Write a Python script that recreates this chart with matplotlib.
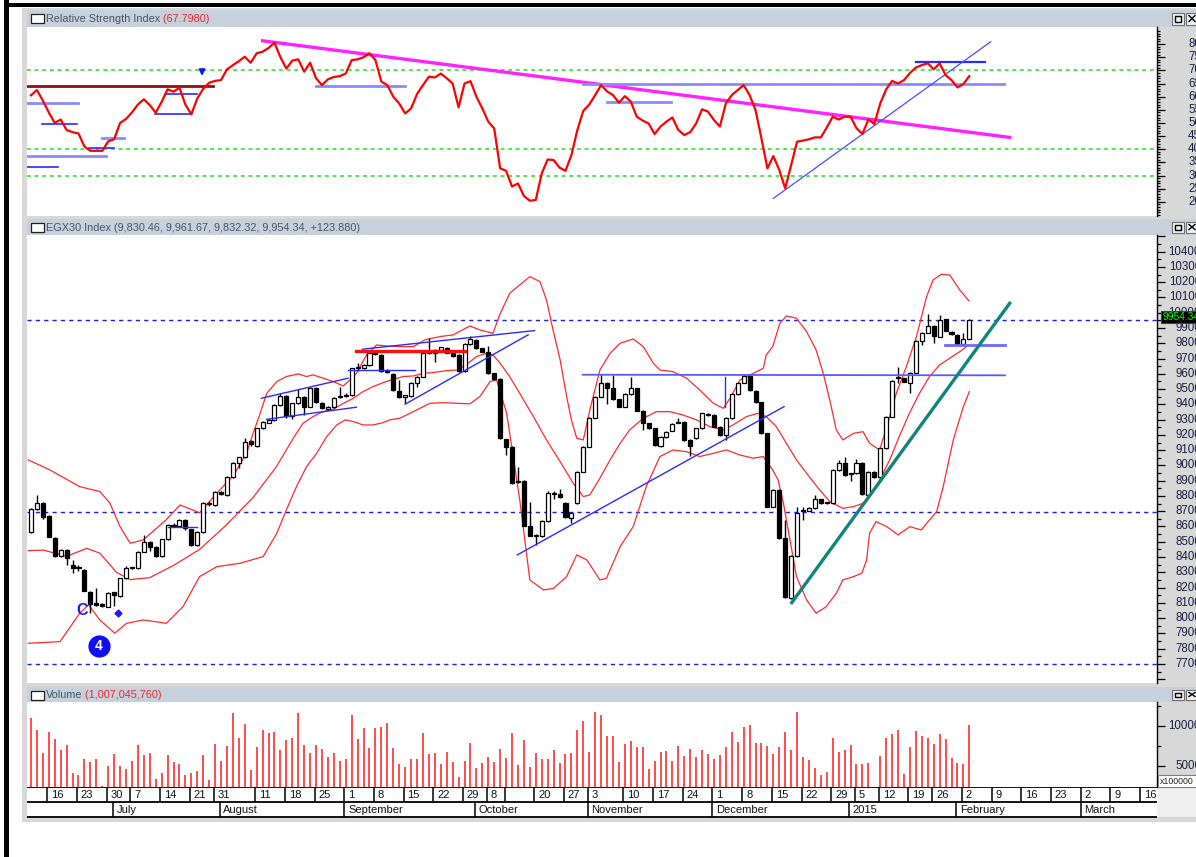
import matplotlib
matplotlib.use("Agg")
import matplotlib.pyplot as plt
from matplotlib.patches import Rectangle
import numpy as np

plt.rcParams["font.family"] = ["Liberation Sans", "DejaVu Sans"]

W, H = 1196, 857

# EGX30 daily candles, one per trading day (mid June 2014 -> 2 Feb 2015)
opens = [8566, 8713, 8752, 8669, 8527, 8407, 8446, 8348, 8330, 8315,
         8173, 8100, 8092, 8075, 8168, 8145, 8261, 8326, 8326, 8435,
         8501, 8468, 8407, 8516, 8605, 8600, 8643, 8581, 8479, 8566,
         8748, 8741, 8828, 8806, 8922, 9013, 9053, 9160, 9127, 9243,
         9280, 9298, 9396, 9455, 9326, 9407, 9450, 9385, 9510, 9412,
         9368, 9380, 9450, 9455, 9460, 9640, 9640, 9658, 9730, 9723,
         9620, 9599, 9488, 9450, 9455, 9542, 9582, 9740, 9734, 9756,
         9767, 9734, 9723, 9621, 9795, 9822, 9767, 9745, 9603, 9564,
         9171, 9123, 8893, 8900, 8604, 8540, 8538, 8638, 8813, 8815,
         8752, 8653, 8752, 8959, 9123, 9313, 9450, 9542, 9505, 9433,
         9385, 9468, 9505, 9359, 9276, 9243, 9127, 9184, 9228, 9280,
         9287, 9167, 9178, 9243, 9335, 9330, 9250, 9200, 9309, 9468,
         9542, 9586, 9490, 9413, 9210, 8730, 8839, 8523, 8130, 8407,
         8700, 8704, 8720, 8778, 8752, 8752, 8970, 9018, 8943, 8948,
         9018, 8806, 8959, 8922, 9112, 9320, 9570, 9570, 9542, 9607,
         9815, 9870, 9913, 9844, 9957, 9876, 9855, 9796, 9830]
highs = [8720, 8806, 8760, 8675, 8530, 8455, 8450, 8381, 8345, 8320,
         8178, 8195, 8100, 8172, 8172, 8265, 8340, 8335, 8440, 8545,
         8505, 8472, 8520, 8615, 8625, 8648, 8648, 8585, 8570, 8760,
         8765, 8832, 8835, 8928, 9022, 9058, 9180, 9165, 9248, 9292,
         9305, 9400, 9475, 9460, 9412, 9500, 9455, 9515, 9515, 9418,
         9390, 9445, 9515, 9475, 9640, 9672, 9665, 9740, 9745, 9728,
         9630, 9605, 9560, 9462, 9548, 9586, 9745, 9832, 9760, 9778,
         9775, 9740, 9728, 9800, 9850, 9828, 9772, 9782, 9608, 9570,
         9176, 9128, 8990, 8905, 8763, 8548, 8643, 8835, 8830, 8845,
         8758, 8695, 8965, 9128, 9318, 9455, 9597, 9548, 9592, 9438,
         9472, 9582, 9510, 9364, 9280, 9248, 9190, 9226, 9276, 9310,
         9292, 9172, 9248, 9346, 9345, 9335, 9255, 9314, 9473, 9547,
         9600, 9600, 9495, 9418, 9215, 8845, 8844, 8640, 8412, 8730,
         8730, 8725, 8805, 8783, 8760, 8975, 9035, 9058, 8950, 9040,
         9023, 8964, 8964, 9117, 9325, 9560, 9645, 9575, 9612, 9820,
         9875, 9992, 9918, 9985, 9962, 9880, 9860, 9870, 9962]
lows = [8560, 8705, 8647, 8530, 8400, 8400, 8348, 8293, 8310, 8175,
        8032, 8080, 8075, 8070, 8080, 8140, 8255, 8320, 8320, 8430,
        8440, 8400, 8400, 8510, 8595, 8595, 8580, 8475, 8470, 8560,
        8735, 8735, 8808, 8800, 8918, 8980, 9050, 9130, 9122, 9238,
        9275, 9292, 9390, 9310, 9305, 9400, 9330, 9380, 9412, 9368,
        9360, 9375, 9440, 9450, 9455, 9620, 9630, 9650, 9722, 9615,
        9605, 9488, 9440, 9407, 9450, 9515, 9578, 9730, 9680, 9750,
        9735, 9712, 9615, 9615, 9790, 9762, 9740, 9598, 9560, 9170,
        9070, 8880, 8885, 8600, 8535, 8479, 8533, 8632, 8780, 8788,
        8655, 8620, 8748, 8955, 9118, 9308, 9445, 9405, 9428, 9380,
        9380, 9462, 9354, 9232, 9238, 9129, 9122, 9178, 9223, 9275,
        9162, 9062, 9172, 9238, 9322, 9249, 9195, 9167, 9304, 9463,
        9537, 9489, 9408, 9205, 8725, 8725, 8518, 8130, 8125, 8402,
        8640, 8699, 8715, 8747, 8745, 8747, 8965, 8932, 8895, 8943,
        8808, 8801, 8917, 8917, 9107, 9315, 9540, 9544, 9472, 9602,
        9790, 9865, 9800, 9839, 9878, 9854, 9791, 9791, 9832]
closes = [8713, 8752, 8664, 8534, 8407, 8446, 8392, 8326, 8326, 8180,
          8093, 8086, 8080, 8167, 8150, 8261, 8326, 8330, 8435, 8501,
          8468, 8407, 8516, 8610, 8603, 8643, 8588, 8479, 8566, 8752,
          8750, 8828, 8815, 8922, 9018, 9053, 9156, 9138, 9243, 9287,
          9298, 9396, 9455, 9326, 9407, 9450, 9385, 9510, 9418, 9374,
          9385, 9440, 9455, 9460, 9636, 9643, 9658, 9734, 9727, 9621,
          9614, 9494, 9446, 9459, 9542, 9582, 9739, 9735, 9756, 9773,
          9739, 9717, 9621, 9795, 9826, 9767, 9745, 9603, 9564, 9178,
          9123, 8887, 8894, 8604, 8538, 8540, 8638, 8817, 8815, 8792,
          8660, 8690, 8959, 9123, 9313, 9450, 9542, 9505, 9433, 9385,
          9468, 9505, 9359, 9276, 9243, 9134, 9184, 9221, 9271, 9280,
          9167, 9127, 9243, 9341, 9330, 9254, 9200, 9309, 9468, 9542,
          9586, 9494, 9413, 9210, 8730, 8839, 8523, 8136, 8407, 8691,
          8704, 8720, 8778, 8752, 8754, 8970, 9018, 8937, 8945, 9018,
          8813, 8959, 8922, 9112, 9320, 9555, 9572, 9549, 9607, 9815,
          9870, 9913, 9848, 9953, 9883, 9859, 9796, 9830, 9954]

# volume in units of 100,000 shares
volume = [10960, 9500, 6580, 9250, 8330, 7000, 7580, 4170, 3880, 5830,
          5460, 5920, 2500, 5000, 6500, 5000, 4670, 5670, 7580, 6380,
          6630, 3330, 4170, 6380, 5460, 5210, 3920, 4130, 4420, 6380,
          3210, 7710, 5580, 7500, 11630, 8500, 10210, 4500, 7380, 9500,
          9130, 9250, 7000, 8290, 8500, 11630, 7580, 6630, 7580, 7130,
          6170, 6630, 5580, 5920, 11380, 8420, 9750, 7250, 9750, 9830,
          10420, 7250, 5210, 4880, 5920, 5830, 9130, 6500, 6630, 5210,
          6750, 5460, 3580, 5580, 7830, 4750, 5330, 6170, 5460, 7130,
          6040, 9130, 5080, 8290, 4880, 6630, 5830, 5920, 7000, 5330,
          6500, 6630, 9500, 10670, 6750, 11750,
          11380, 8750, 8750, 5460, 7710, 8170, 7330, 7330, 4630, 5670,
          6750, 6880, 5580, 7460, 6290, 7080, 6170, 7000, 6500, 5920,
          6380, 7330, 9250, 7960, 9830, 10080, 7830, 7830, 7460, 6500,
          7330, 9250, 7000, 11750, 6170, 5790, 4750, 3920, 4250, 8500,
          6750, 7000, 7580, 5210, 5210, 5330, 2400, 6250, 8500, 9000,
          9500, 4040, 7330, 9380, 8750, 8500, 7710, 9000, 8420, 6040,
          5330, 5210, 10070]

rsi = [60.5, 62.5, 58.5, 54, 50, 51.3, 47.3, 46.5, 46, 41,
       39.4, 39.4, 39.4, 43, 43.8, 50, 51.5, 54, 57, 59,
       56.8, 53.9, 58, 62.8, 61.9, 63.4, 57, 53.3, 59.3, 63,
       65.3, 66, 66.3, 70.4, 72, 73.5, 75.2, 72.9, 76.5, 77.1,
       78.5, 80.5, 75, 70.7, 73.7, 74.2, 69.5, 72.9, 67, 64.4,
       66.6, 67.5, 67.8, 68.8, 73.9, 74.2, 75, 76.5, 73.9, 65.7,
       64.4, 60, 57.4, 53.6, 55.5, 61, 64.4, 67.6, 67.3, 68.8,
       67, 65, 55.9, 65, 65.9, 60, 55.5, 50.5, 47.9, 32.7,
       31.8, 25.8, 27, 22.2, 20.4, 20.7, 30.8, 36.1, 35.9, 33,
       31.8, 37.8, 47.3, 54.6, 57, 60.6, 64.4, 62, 60.6, 57.7,
       60.2, 58.1, 52.4, 50.9, 49.8, 45.8, 48.6, 50.5, 52.1, 47.3,
       45.4, 46.5, 49.8, 55.2, 54.3, 51.1, 48.6, 57.4, 60.6, 62.5,
       64.4, 60.6, 54.9, 44.1, 32.7, 37.4, 32.1, 25.1, 34, 42.9,
       43.3, 43.8, 44.5, 44.5, 48.3, 52.4, 51.3, 52.4, 52.4, 48,
       45.8, 51.3, 49.6, 57.4, 62.8, 66, 65, 66.3, 69, 71.1,
       72, 72.7, 70.4, 72.7, 68.2, 66.3, 63.5, 64.8, 67.8]

# Bollinger bands: (trading-day position, level)
upper_day = [-0.45, 3.2, 8.2, 11.6, 13.3, 15.0, 16.7, 18.9, 22.8, 25.1, 28.4, 31.3, 34.1, 36.3,
             37.4, 38.5, 39.7, 41.4, 43.0, 45.0, 46.4, 47.5, 49.2, 50.9, 52.6, 53.7, 54.8, 56.5,
             58.2, 59.9, 62.1, 64.4, 66.3, 68.9, 71.1, 73.9, 75.6, 77.8, 78.9, 80.6, 82.3, 84.0,
             85.7, 86.8, 87.9, 89.1, 90.2, 91.0, 91.9, 93.0, 94.1, 95.8, 97.5, 99.2, 101.4, 103.1,
             104.8, 105.9, 108.1, 110.4, 112.6, 114.9, 116.6, 117.7, 119.4, 121.6, 123.3, 123.8,
             124.9, 126.1, 127.2, 128.9, 130.6, 132.2, 133.4, 134.5, 135.6, 136.7, 138.5, 140.1,
             141.2, 142.9, 144.1, 145.7, 147.4, 149.1, 150.8, 151.9, 153.3, 154.7, 156.4, 157.9]
upper_val = [9036, 8970, 8861, 8829, 8752, 8599, 8490, 8512, 8645, 8741, 8690, 8818, 8935, 9080,
             9210, 9331, 9472, 9549, 9582, 9599, 9582, 9593, 9571, 9549, 9520, 9560, 9603, 9723,
             9789, 9782, 9778, 9778, 9822, 9844, 9855, 9913, 9887, 9865, 9985, 10127, 10182, 10236,
             10204, 10084, 9887, 9691, 9450, 9298, 9178, 9167, 9363, 9625, 9734, 9800, 9828, 9778,
             9669, 9625, 9614, 9571, 9494, 9407, 9374, 9440, 9560, 9603, 9636, 9723,
             9778, 9931, 9979, 9964, 9876, 9756, 9603, 9429, 9232, 9167, 9210, 9221,
             9145, 9101, 9254, 9472, 9647, 9844, 10105, 10215, 10252, 10247, 10149, 10079]
mid_day = [-0.45, 2.1, 6.0, 9.4, 11.6, 14.4, 16.7, 20.0, 24.0, 28.4, 32.9, 37.4, 41.3, 44.2,
           45.8, 47.5, 49.2, 50.9, 52.6, 54.3, 55.9, 57.6, 59.3, 61.0, 62.7, 64.4, 66.1, 67.7,
           70.0, 71.7, 73.3, 75.0, 76.7, 77.8, 79.0, 80.6, 82.3, 84.6, 86.8, 89.1, 91.3, 93.0,
           94.1, 95.8, 97.5, 99.2, 100.8, 103.1, 105.3, 107.6, 109.8, 112.1, 114.3, 116.6, 118.2,
           120.5, 122.4, 123.8, 125.5, 127.2, 128.9, 130.6, 132.8, 134.5, 136.7, 138.5, 140.1,
           141.2, 142.9, 144.6, 146.2, 147.9, 149.6, 151.3, 153.0, 154.7, 156.4, 157.9]
mid_val = [8442, 8445, 8405, 8457, 8425, 8300, 8252, 8265, 8345, 8450, 8610, 8790, 8990, 9180,
           9276, 9320, 9352, 9368, 9407, 9440, 9483, 9516, 9542, 9564, 9582, 9586, 9603, 9608,
           9621, 9625, 9658, 9713, 9734, 9723, 9669, 9582, 9472, 9320, 9167, 9025, 8883, 8796,
           8807, 8916, 9036, 9145, 9232, 9309, 9352, 9352, 9330, 9298, 9254, 9232, 9265,
           9320, 9341, 9320, 9254, 9145, 9036, 8948, 8839, 8763, 8719, 8730, 8752,
           8796, 8905, 9036, 9189, 9341, 9472, 9582, 9658, 9702, 9745, 9789]
lower_day = [-0.45, 4.9, 8.2, 9.7, 11.6, 14.1, 16.1, 18.9, 22.8, 25.6, 28.4, 31.3, 35.2, 39.1,
             41.4, 43.0, 44.7, 46.4, 48.1, 49.8, 51.5, 52.9, 54.3, 55.9, 57.6, 59.3, 60.4, 62.1,
             63.8, 65.5, 67.2, 69.4, 71.7, 73.9, 75.6, 77.3, 78.4, 80.1, 82.3, 84.0, 86.3, 88.0,
             90.2, 91.9, 93.6, 95.8, 96.9, 99.2, 101.4, 103.6, 105.9, 108.1, 110.4, 112.6, 114.9,
             117.1, 119.4, 121.6, 123.3, 124.9, 125.8, 126.7, 127.8, 128.9, 130.6, 132.2, 133.9,
             135.6, 136.7, 138.5, 139.9, 140.7, 141.2, 142.3, 144.1, 146.0, 148.0, 149.9, 151.3,
             152.5, 153.6, 155.3, 157.0, 158.0]
lower_val = [7835, 7846, 8032, 8086, 7988, 7901, 7966, 7988, 7966, 8075, 8272, 8337, 8359, 8403,
             8556, 8708, 8861, 8992, 9079, 9189, 9265, 9298, 9287, 9265, 9265, 9280, 9298, 9309,
             9341, 9374, 9407, 9411, 9407, 9403, 9451, 9549, 9560, 9341, 8774, 8250, 8184, 8195,
             8272, 8414, 8381, 8250, 8261, 8468, 8599, 8861, 9058, 9101, 9090, 9058, 9079,
             9101, 9068, 9047, 9058, 8970, 8905, 8752, 8512, 8272, 8119, 8032, 8075,
             8163, 8250, 8272, 8294, 8381, 8556, 8632, 8599, 8545, 8599, 8577, 8643,
             8697, 8861, 9167, 9385, 9483]

day_ticks = [3, 8, 13, 17, 22, 27, 31, 38, 43, 48, 53, 58, 63, 68, 73, 77, 80, 85, 90, 94,
             100, 105, 110, 115, 120, 125, 130, 135, 139, 143, 148, 152, 157, 162, 167, 172,
             177, 182, 187]
day_labels = ["16", "23", "30", "7", "14", "21", "31", "11", "18", "25", "1", "8", "15", "22",
              "29", "8", "", "20", "27", "3", "10", "17", "24", "1", "8", "15", "22", "29", "5",
              "12", "19", "26", "2", "9", "16", "23", "2", "9", "16"]
month_ticks = [14, 32, 53, 75, 94, 115, 138, 156, 177]
month_labels = ["July", "August", "September", "October", "November", "December", "2015",
                "February", "March"]

XL, XR = -0.67, 189.6
HDR = "#c6d1dc"


def rect(x0, y0, x1, y1):
    return [x0 / W, 1 - y1 / H, (x1 - x0) / W, (y1 - y0) / H]


fig = plt.figure(figsize=(W / 100, H / 100), dpi=100)
bg = fig.add_axes([0, 0, 1, 1])
bg.set_xlim(0, W)
bg.set_ylim(H, 0)
bg.axis("off")

# window frame
bg.add_patch(Rectangle((22, 8), W - 22, 814, fc="#d8d8d8", ec="none"))
bg.add_patch(Rectangle((4, 0), 2.6, H, fc="black", ec="none"))
bg.add_patch(Rectangle((7.4, 0), 2.0, H, fc="black", ec="none"))
bg.add_patch(Rectangle((4, 3), W, 3.6, fc="black", ec="none"))


def header(y0, y1, name, value, value_color):
    bg.add_patch(Rectangle((27, y0), W - 27, y1 - y0, fc=HDR, ec="none"))
    bg.add_patch(Rectangle((30.5, y0 + 4), 13, 9, fc="white", ec="#202020", lw=0.9))
    t = bg.text(46, (y0 + y1) / 2 + 0.5, name, fontsize=7.8, color="#46546a", va="center")
    if value:
        bg.annotate(" " + value, xycoords=t, xy=(1, 0), va="bottom", fontsize=7.8, color=value_color)
    for bx in (1172, 1186):
        bg.add_patch(Rectangle((bx, y0 + 2.5), 12, y1 - y0 - 5, fc="#f0f0f0", ec="#707070", lw=0.8))
    bg.add_patch(Rectangle((1175, y0 + 5.5), 6, y1 - y0 - 11, fc="none", ec="black", lw=1.0))
    bg.plot([1189, 1195], [y0 + 5.5, y1 - 5.5], color="black", lw=1.0)
    bg.plot([1189, 1195], [y1 - 5.5, y0 + 5.5], color="black", lw=1.0)


header(10, 27, "Relative Strength Index", "(67.7980)", "#e8282d")
header(219, 235, "EGX30 Index (9,830.46, 9,961.67, 9,832.32, 9,954.34, +123.880)", "", "")
header(687, 702, "Volume", "(1,007,045,760)", "#e8282d")

LAB_X = (1201 - 27) / (1157 - 27)


def panel(y0, y1):
    ax = fig.add_axes(rect(27, y0, 1157, y1))
    ax.set_xlim(XL, XR)
    for s in ("top", "bottom", "left"):
        ax.spines[s].set_visible(False)
    ax.spines["right"].set_linewidth(1.0)
    ax.tick_params(axis="x", bottom=False, labelbottom=False)
    ax.yaxis.tick_right()
    ax.tick_params(axis="y", which="both", direction="out", labelright=False, width=0.9)
    ax.tick_params(axis="y", which="major", length=6)
    ax.tick_params(axis="y", which="minor", length=3)
    return ax


def right_labels(ax, values, texts):
    tr = ax.get_yaxis_transform()
    for v, t in zip(values, texts):
        ax.text(LAB_X, v, t, transform=tr, ha="right", va="center", fontsize=8.3,
                color="#1e1e40", clip_on=False)


days = np.arange(len(closes))

# ---------------- RSI panel ----------------
ax1 = panel(27, 216)
ax1.set_ylim(14.6, 86.5)
ax1.set_yticks(np.arange(20, 81, 5))
ax1.set_yticks(np.arange(15, 86, 1), minor=True)
ax1.tick_params(axis="y", which="minor", length=2.5)
right_labels(ax1, np.arange(20, 81, 5), [str(v) for v in range(20, 81, 5)])
for lvl in (70, 40, 30):
    ax1.axhline(lvl, color="#22dd22", lw=1.1, ls=(0, (2.5, 2.5)), zorder=1)
ax1.plot([-0.77, 30.6], [64.0, 64.0], color="#8b1010", lw=2.0, zorder=3)
ax1.plot([39.0, 164.8], [81.25, 44.5], color="#ff22ff", lw=2.4, zorder=3)
light_blue = "#8a8aff"
dark_blue = "#2a2aff"
for (a, b, v, col, w) in [(-0.8, 7.9, 57.45, light_blue, 2.0), (1.9, 7.7, 49.5, dark_blue, 1.2),
                          (-0.8, 12.6, 37.5, light_blue, 2.0), (-0.8, 4.6, 33.3, dark_blue, 1.2),
                          (9.8, 13.9, 40.5, dark_blue, 1.2), (11.9, 15.7, 44.3, light_blue, 2.0),
                          (20.9, 26.9, 53.3, dark_blue, 1.2), (22.5, 27.9, 60.9, dark_blue, 1.2),
                          (48.0, 62.9, 64.1, light_blue, 2.0), (97.0, 107.8, 57.8, light_blue, 2.0),
                          (93.0, 163.8, 64.7, light_blue, 2.0), (149.0, 160.7, 73.2, dark_blue, 1.6)]:
    ax1.plot([a, b], [v, v], color=col, lw=w, zorder=3)
ax1.plot([125.0, 161.6], [21.3, 80.9], color="#4a4aff", lw=0.9, zorder=3)
ax1.annotate("", xy=(28.8, 66.8), xytext=(28.8, 71.2),
             arrowprops=dict(arrowstyle="-|>", color="#1010ff", lw=1.5, mutation_scale=8))
ax1.plot(days, rsi, color="#ff0000", lw=1.6, zorder=4)

# ---------------- price panel ----------------
ax2 = panel(235, 683)
ax2.set_ylim(7575, 10509)
ax2.set_yticks(np.arange(7600, 10501, 100))
ax2.set_yticks(np.arange(7650, 10500, 100), minor=True)
right_labels(ax2, np.arange(7700, 10401, 100), [str(v) for v in range(7700, 10401, 100)])
for lvl in (9953, 8695, 7700):
    ax2.axhline(lvl, color="#1a1aff", lw=1.0, ls=(0, (3, 3)), zorder=1)

band_col = "#ff2a2a"
ax2.plot(upper_day, upper_val, color=band_col, lw=0.9, zorder=2)
ax2.plot(mid_day, mid_val, color=band_col, lw=0.9, zorder=2)
ax2.plot(lower_day, lower_val, color=band_col, lw=0.9, zorder=2)

o = np.array(opens, float)
c = np.array(closes, float)
up = c >= o
ax2.vlines(days, lows, highs, color="black", lw=1.0, zorder=3)
body_lo = np.minimum(o, c)
body_h = np.maximum(np.abs(c - o), 6)
ax2.bar(days[up], body_h[up], bottom=body_lo[up], width=0.68, color="white",
        edgecolor="black", lw=0.9, zorder=4)
ax2.bar(days[~up], body_h[~up], bottom=body_lo[~up], width=0.68, color="black",
        edgecolor="black", lw=0.9, zorder=4)

line_blue = "#2a2aff"
for (xs, ys, col, w) in [([38.8, 53.4], [9440, 9571], line_blue, 1.0),
                         ([39.7, 54.8], [9302, 9381], line_blue, 1.0),
                         ([53.4, 64.6], [9625, 9625], line_blue, 1.0),
                         ([55.8, 84.8], [9761, 9883], line_blue, 1.0),
                         ([63.0, 83.7], [9401, 9855], line_blue, 1.0),
                         ([23.1, 27.9], [8595, 8595], line_blue, 1.0),
                         ([81.9, 126.8], [8414, 9385], line_blue, 1.0),
                         ([92.9, 164.0], [9594, 9590], "#5a5aff", 1.3),
                         ([116.9, 116.9], [9581, 9385], line_blue, 1.0),
                         ([153.9, 164.0], [9789, 9789], "#6a6aff", 2.0),
                         ([54.8, 73.1], [9750, 9750], "#ff1010", 2.4),
                         ([128.1, 164.8], [8101, 10062], "#11857a", 2.4)]:
    ax2.plot(xs, ys, color=col, lw=w, zorder=5)

ax2.text(8.6, 8047, "C", color="#1a1aff", fontsize=11.5, fontweight="bold",
         ha="center", va="center", zorder=6)
ax2.plot([14.7], [8034], marker="D", ms=3.5, color="#1a1aff", zorder=6)
ax2.plot([11.4], [7818], marker="o", ms=15, color="#1010ee", zorder=6)
ax2.text(11.4, 7818, "4", color="white", fontsize=10, fontweight="bold",
         ha="center", va="center", zorder=7)

# ---------------- volume panel ----------------
ax3 = panel(702, 787)
ax3.set_ylim(2375, 13000)
ax3.set_yticks([5000, 10000])
ax3.set_yticks([2500, 7500, 12500], minor=True)
right_labels(ax3, [5000, 10000], ["5000", "10000"])
ax3.vlines(days, 0, volume, color="#ff1a1a", lw=1.1, zorder=3)

# ---------------- date rows ----------------
for (y0, y1, ticks, labels) in [(787, 802, day_ticks, day_labels),
                                (802, 817, month_ticks, month_labels)]:
    axd = fig.add_axes(rect(27, y0, 1157, y1))
    axd.set_xlim(XL, XR)
    axd.set_ylim(0, 1)
    axd.axis("off")
    axd.vlines(np.array(ticks) - 0.25, 0, 1, color="black", lw=1.1)
    for t, lab in zip(ticks, labels):
        axd.text(t + 0.4, 0.45, lab, fontsize=8, color="#101010", ha="left", va="center")

bg.add_patch(Rectangle((27, 787), 1130, 30, fc="white", ec="none"))
bg.add_patch(Rectangle((1157, 787), W - 1157, 30, fc="#efefef", ec="none"))
bg.hlines([787, 802, 817], 27, 1157, color="black", lw=1.3)

# ---------------- overlay boxes ----------------
fg = fig.add_axes([0, 0, 1, 1])
fg.set_xlim(0, W)
fg.set_ylim(H, 0)
fg.axis("off")
fg.patch.set_alpha(0)
fg.add_patch(Rectangle((1161, 311), 40, 12, fc="black", ec="#404040", lw=0.8))
fg.text(1162.5, 317.3, "9954.34", color="#00ff00", fontsize=7.4, va="center", ha="left")
fg.add_patch(Rectangle((1158, 775), 40, 11.5, fc="white", ec="#808080", lw=0.8))
fg.text(1159.5, 781, "x100000", color="#202020", fontsize=6.3, va="center", ha="left")

fig.savefig("out.png", dpi=100)
